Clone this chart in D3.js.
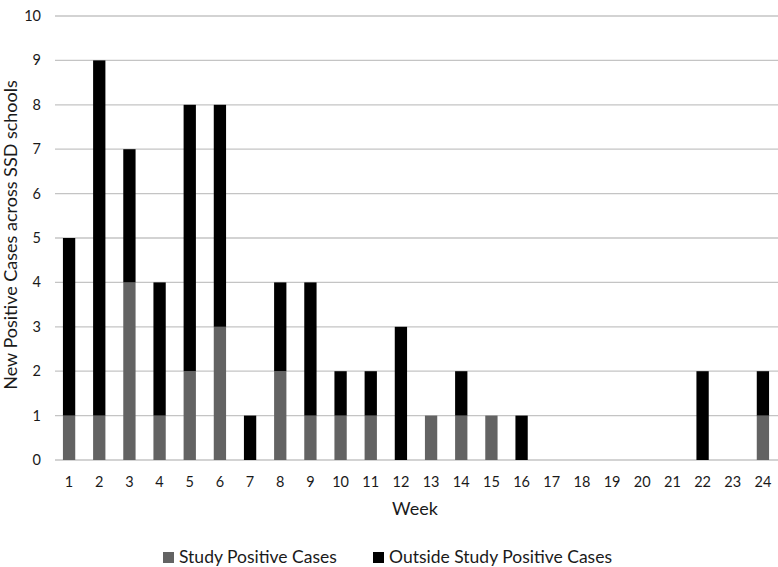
<!DOCTYPE html>
<html><head><meta charset="utf-8">
<script src="https://cdn.jsdelivr.net/npm/d3@7"></script>
<style>body{margin:0;background:#fff}svg{display:block;font-family:Lato,"Open Sans",sans-serif}</style>
</head><body><svg id="c" width="778" height="567"></svg>
<script>
const weeks = d3.range(1, 25).map(String);
const studyCases = [1,1,4,1,2,3,0,2,1,1,1,0,1,1,1,0,0,0,0,0,0,0,0,1];
const outsideCases = [4,8,3,3,6,5,1,2,3,1,1,3,0,1,0,1,0,0,0,0,0,2,0,1];
const seriesNames = ["Study Positive Cases", "Outside Study Positive Cases"];
const seriesColors = ["#636363", "#000000"];
const yTicks = d3.range(0, 11);

const svg = d3.select("#c");
const m = {l: 55, r: 778, t: 16, b: 460};
const x = d3.scaleBand().domain(weeks).range([54, 778]).paddingInner(0.6).paddingOuter(0.3);
const y = d3.scaleLinear().domain([0, 10]).range([m.b, m.t]);

// gridlines
svg.append("g").selectAll("line").data(yTicks).join("line")
  .attr("x1", m.l).attr("x2", m.r)
  .attr("y1", d => y(d)).attr("y2", d => y(d))
  .attr("stroke", "#c4c4c4").attr("stroke-width", 1.3);

// y tick labels
svg.append("g").selectAll("text").data(yTicks).join("text")
  .attr("x", 41).attr("y", d => y(d)).attr("dy", "0.35em")
  .attr("text-anchor", "end").attr("font-size", 14.5).attr("fill", "#1a1a1a")
  .text(d => d);

const data = weeks.map((w, i) => ({week: w, study: studyCases[i], outside: outsideCases[i]}));
const stack = d3.stack().keys(["study", "outside"])(data);
const bw = 12.3;
svg.append("g").selectAll("g").data(stack).join("g")
  .attr("fill", (d, i) => seriesColors[i])
  .selectAll("rect").data(d => d).join("rect")
  .attr("x", d => x(d.data.week) + x.bandwidth() / 2 - bw / 2)
  .attr("width", bw)
  .attr("y", d => y(d[1]))
  .attr("height", d => y(d[0]) - y(d[1]));

// x tick labels
svg.append("g").selectAll("text").data(weeks).join("text")
  .attr("x", d => x(d) + x.bandwidth() / 2).attr("y", 487)
  .attr("text-anchor", "middle").attr("font-size", 14.5).attr("fill", "#1a1a1a")
  .text(d => d);

svg.append("text").attr("x", 415).attr("y", 515).attr("text-anchor", "middle")
  .attr("font-size", 18).attr("fill", "#1a1a1a").text("Week");

svg.append("text").attr("transform", "translate(17,235) rotate(-90)")
  .attr("text-anchor", "middle").attr("font-size", 18).attr("fill", "#1a1a1a")
  .text("New Positive Cases across SSD schools");

// legend
const legX = [163, 373];
const lg = svg.append("g").selectAll("g").data(seriesNames).join("g")
  .attr("transform", (d, i) => `translate(${legX[i]},563)`);
lg.append("rect").attr("x", 0).attr("y", -11).attr("width", 11).attr("height", 11)
  .attr("fill", (d, i) => seriesColors[i]);
lg.append("text").attr("x", 16).attr("y", 0)
  .attr("font-size", 17.5).attr("fill", "#1a1a1a").text(d => d);
</script></body></html>
